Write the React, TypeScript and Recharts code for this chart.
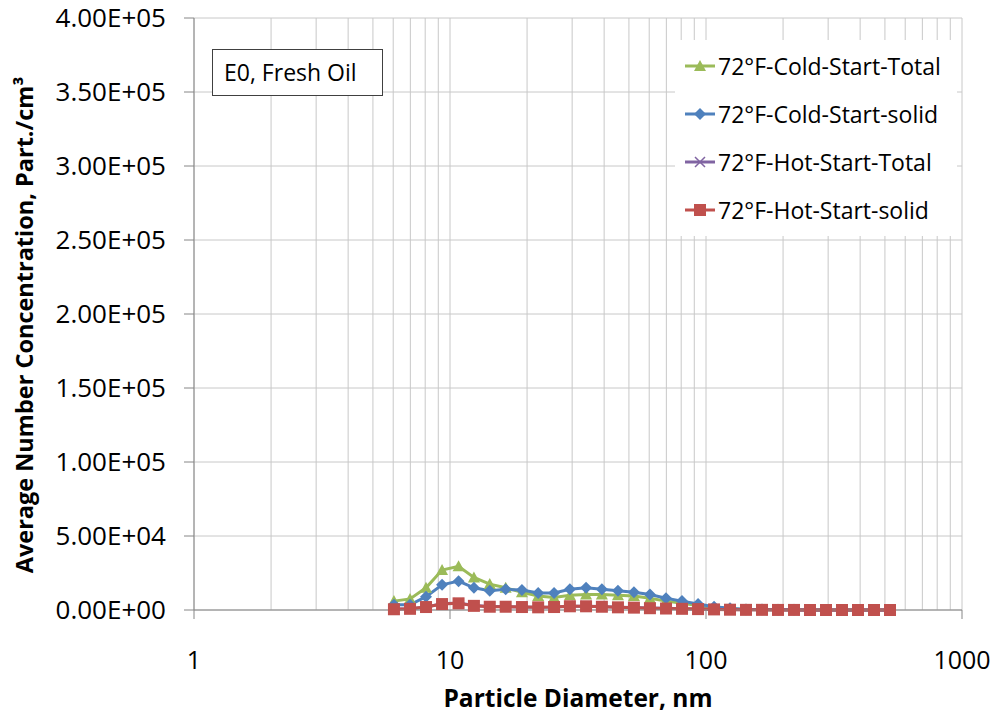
import { LineChart, Line, XAxis, YAxis, CartesianGrid, Legend } from 'recharts'

// EEPS channel midpoints, nm
const diameters = [
  6.04, 6.98, 8.06, 9.31, 10.8, 12.4, 14.3, 16.5, 19.1, 22.1, 25.5, 29.4, 34.0, 39.2, 45.3, 52.3,
  60.4, 69.8, 80.6, 93.1, 107.5, 124.1, 143.3, 165.5, 191.1, 220.7, 254.8, 294.3, 339.8, 392.4, 453.2, 523.3,
]

const coldTotal = [
  6000, 7500, 15000, 27000, 29500, 22000, 17500, 15000, 12000, 9500, 8500, 10000, 10500, 10500, 10000, 9500,
  8000, 6000, 4500, 3000, 1500, 800, 300, 200, 100, 100, 50, 50, 0, 0, 0, 0,
]
const coldSolid = [
  3500, 3500, 9000, 17000, 19500, 15000, 13000, 14000, 13500, 11500, 11500, 14000, 15000, 14000, 13000, 12000,
  10500, 8000, 6000, 4000, 2200, 1200, 400, 300, 200, 100, 50, 50, 0, 0, 0, 0,
]
const hotTotal = [
  600, 900, 2100, 4200, 4700, 3000, 2300, 2300, 2100, 1900, 2100, 2600, 2600, 2300, 1900, 1700,
  1300, 1100, 900, 700, 500, 300, 200, 100, 100, 50, 50, 0, 0, 0, 0, 0,
]
const hotSolid = [
  500, 800, 2000, 4000, 4500, 2800, 2200, 2200, 2000, 1800, 2000, 2500, 2500, 2200, 1800, 1600,
  1200, 1000, 800, 600, 400, 200, 100, 100, 50, 50, 0, 0, 0, 0, 0, 0,
]

const seriesNames = ['72°F-Cold-Start-Total', '72°F-Cold-Start-solid', '72°F-Hot-Start-Total', '72°F-Hot-Start-solid']
const xTicks = [1, 2, 3, 4, 5, 6, 7, 8, 9, 10, 20, 30, 40, 50, 60, 70, 80, 90, 100, 200, 300, 400, 500, 600, 700, 800, 900, 1000]
const xLabels = [1, 10, 100, 1000]
const yTicks = [0, 50000, 100000, 150000, 200000, 250000, 300000, 350000, 400000]

const data = diameters.map((d, i) => ({
  d,
  coldTotal: coldTotal[i],
  coldSolid: coldSolid[i],
  hotTotal: hotTotal[i],
  hotSolid: hotSolid[i],
}))

const FONT = '"Open Sans", "Noto Sans", sans-serif'
const AXIS = '#868686'

const series = [
  { key: 'coldTotal', name: seriesNames[0], color: '#9BBB59', marker: 'triangle' },
  { key: 'coldSolid', name: seriesNames[1], color: '#4F81BD', marker: 'diamond' },
  { key: 'hotTotal', name: seriesNames[2], color: '#8064A2', marker: 'x' },
  { key: 'hotSolid', name: seriesNames[3], color: '#C0504D', marker: 'square' },
]

function sci(v: number) {
  if (v === 0) return '0.00E+00'
  const e = Math.floor(Math.log10(v))
  const m = v / Math.pow(10, e)
  return m.toFixed(2) + 'E+' + String(e).padStart(2, '0')
}

function Marker({ cx, cy, kind, color }: { cx: number; cy: number; kind: string; color: string }) {
  if (kind === 'triangle') {
    return <path d={`M${cx},${cy - 6}L${cx + 6},${cy + 5}L${cx - 6},${cy + 5}Z`} fill={color} />
  }
  if (kind === 'diamond') {
    return <path d={`M${cx},${cy - 6}L${cx + 6},${cy}L${cx},${cy + 6}L${cx - 6},${cy}Z`} fill={color} />
  }
  if (kind === 'square') {
    return <rect x={cx - 6} y={cy - 6} width={12} height={12} fill={color} />
  }
  return (
    <path d={`M${cx - 5},${cy - 5}L${cx + 5},${cy + 5}M${cx + 5},${cy - 5}L${cx - 5},${cy + 5}`} stroke={color} strokeWidth={1.5} fill="none" />
  )
}

function XTick(props: any) {
  const { x, y, payload } = props
  if (!xLabels.includes(payload.value)) return <g />
  return (
    <g>
      <line x1={x} x2={x} y1={y} y2={y + 9} stroke={AXIS} />
      <text x={x} y={y + 59} textAnchor="middle" fontSize={25} fontFamily={FONT} fill="#000">
        {payload.value}
      </text>
    </g>
  )
}

function YTitle() {
  return (
    <text
      transform="translate(33,325) rotate(-90)"
      textAnchor="middle"
      fontSize={23.5}
      fontWeight={700}
      fontFamily={FONT}
      fill="#000"
    >
      Average Number Concentration, Part./cm³
    </text>
  )
}

function LegendBox() {
  return (
    <div style={{ position: 'relative', background: '#fff', width: 282, height: 196, fontFamily: FONT }}>
      {series.map((s, i) => (
        <div key={s.key} style={{ position: 'absolute', left: 0, top: 10 + i * 48, height: 32, display: 'flex', alignItems: 'center' }}>
          <svg width={42} height={32}>
            <line x1={10} x2={40} y1={16} y2={16} stroke={s.color} strokeWidth={3} />
            <Marker cx={25} cy={16} kind={s.marker} color={s.color} />
          </svg>
          <span style={{ fontSize: 23, color: '#000', marginLeft: 1, whiteSpace: 'nowrap' }}>{s.name}</span>
        </div>
      ))}
    </div>
  )
}

export default function App() {
  document.body.style.margin = '0'
  return (
    <div style={{ position: 'relative', width: 994, height: 715, background: '#fff' }}>
      <LineChart width={994} height={715} data={data} margin={{ top: 18, right: 32, bottom: 0, left: 0 }}>
        <CartesianGrid stroke="#c8c8c8" />
        <XAxis
          dataKey="d"
          type="number"
          scale="log"
          domain={[1, 1000]}
          ticks={xTicks}
          interval={0}
          allowDataOverflow
          height={105}
          tickSize={0}
          tickMargin={0}
          tickLine={false}
          stroke={AXIS}
          tick={<XTick />}
          label={{ value: 'Particle Diameter, nm', position: 'insideBottom', offset: 8, style: { fontSize: 24.5, fontWeight: 700, fontFamily: FONT, fill: '#000' } }}
        />
        <YAxis
          type="number"
          domain={[0, 400000]}
          ticks={yTicks}
          interval={0}
          width={194}
          tickSize={10}
          tickMargin={18}
          stroke={AXIS}
          tickFormatter={sci}
          tick={{ fontSize: 26, fontFamily: FONT, fill: '#000' }}
          label={{ content: () => <YTitle /> }}
        />
        <Legend
          layout="horizontal"
          verticalAlign="middle"
          align="center"
          content={<LegendBox />}
          wrapperStyle={{ left: 675, top: 40, width: 282, height: 196 }}
        />
        {series.map((s) => (
          <Line
            key={s.key}
            dataKey={s.key}
            name={s.name}
            stroke={s.color}
            strokeWidth={3}
            isAnimationActive={false}
            dot={(p: any) => <Marker key={`${s.key}-${p.index}`} cx={p.cx} cy={p.cy} kind={s.marker} color={s.color} />}
          />
        ))}
      </LineChart>
      <div
        style={{
          position: 'absolute',
          left: 212,
          top: 49,
          width: 171,
          height: 47,
          border: '1px solid #404040',
          background: '#fff',
          fontFamily: FONT,
          fontSize: 23,
          lineHeight: '45px',
          paddingLeft: 11,
          boxSizing: 'border-box',
          whiteSpace: 'nowrap',
        }}
      >
        E0, Fresh Oil
      </div>
    </div>
  )
}
